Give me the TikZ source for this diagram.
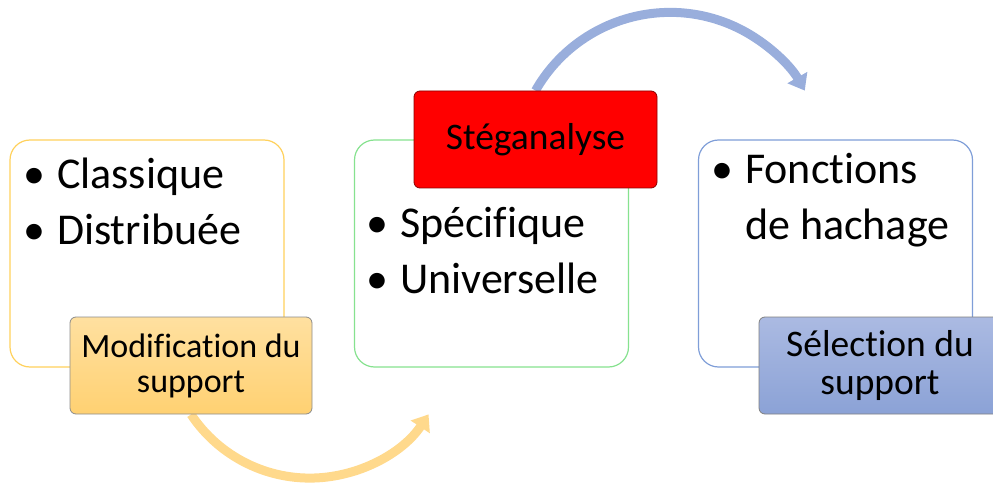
\documentclass[tikz,border=0pt]{standalone}
\usepackage{fontspec}
\setmainfont{Carlito}[Ligatures={NoCommon}]
\usetikzlibrary{arrows.meta,backgrounds}
\definecolor{yelline}{HTML}{FFD15C}
\definecolor{grnline}{HTML}{86E28F}
\definecolor{bluline}{HTML}{7F9ED8}
\definecolor{orgtop}{HTML}{FFE0A0}
\definecolor{orgbot}{HTML}{FFD172}
\definecolor{blutop}{HTML}{ABBAE2}
\definecolor{blubot}{HTML}{8BA2D6}
\definecolor{orarc}{HTML}{FFD98C}
\definecolor{bluarc}{HTML}{99AEDC}
\tikzset{
  outerbox/.style={draw, line width=1.2pt, rounded corners=20pt, fill=white,
    minimum width=274pt, minimum height=227pt, inner sep=0pt},
  labelbox/.style={rounded corners=6pt, line width=0.8pt,
    minimum width=242pt, minimum height=97pt, inner sep=0pt, align=center,
    font=\fontsize{37.5}{39}\selectfont},
  bullettext/.style={anchor=base west, inner sep=0pt,
    font=\fontsize{44}{56}\selectfont},
  bigarrow/.style={line width=9pt, -{Triangle[width=22pt,length=15pt]}}
}
\begin{document}
\begin{tikzpicture}[x=1pt,y=-1pt]
\useasboundingbox (0,0) rectangle (993,489);
\clip (0,0) rectangle (993,489);

\node[outerbox, draw=yelline] (box1) at (147,253.5) {};
\node[outerbox, draw=grnline] (box2) at (491.5,253.5) {};
\node[outerbox, draw=bluline] (box3) at (835.5,253.5) {};

\node[bullettext] (t1) at (23,189) {\begin{tabular}[t]{@{}l@{\hspace{12pt}}l@{}}•&Classique\\•&Distribuée\end{tabular}};
\node[bullettext] (t2) at (366,237) {\begin{tabular}[t]{@{}l@{\hspace{12pt}}l@{}}•&Spécifique\\•&Universelle\end{tabular}};
\node[bullettext] (t3) at (711,184) {\begin{tabular}[t]{@{}l@{\hspace{12pt}}l@{}}•&Fonctions\\&de hachage\end{tabular}};

\node[labelbox, draw=black!45, top color=orgtop, bottom color=orgbot,
  font=\fontsize{34}{35}\selectfont] (lab1) at (191,365.5) {Modification du\\support};
\node[labelbox, draw=red!55!black, fill=red, minimum width=243pt] (lab2) at (535.5,139.5) {Stéganalyse};
\node[labelbox, draw=black!50, top color=blutop, bottom color=blubot] (lab3) at (880,365.5) {Sélection du\\support};

\begin{scope}[on background layer]
\draw[bigarrow, orarc] (lab1.south) arc[start angle=146.4, end angle=33.6, radius=142.6];
\draw[bigarrow, bluarc] (lab2.north) arc[start angle=209.7, end angle=330.3, radius=155];
\end{scope}
\end{tikzpicture}
\end{document}
